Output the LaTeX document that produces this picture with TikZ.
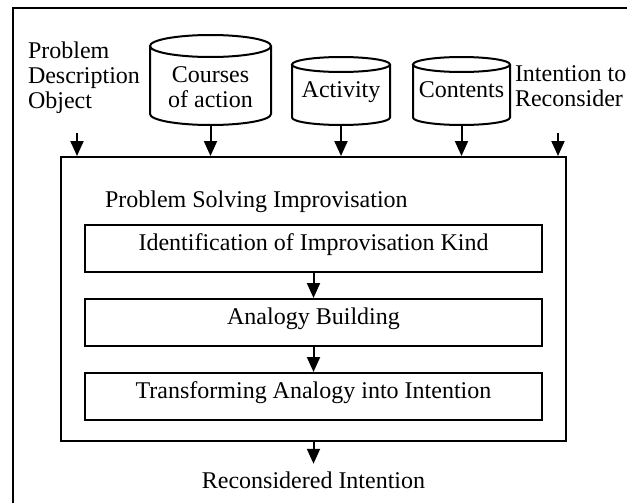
\documentclass[tikz,border=0pt]{standalone}
\usepackage{fontspec}
\setmainfont{Liberation Serif}
\usetikzlibrary{arrows.meta, positioning, calc}

\begin{document}
\begin{tikzpicture}[x=0.5pt, y=-0.5pt, >={Triangle[width=6.5pt,length=7.5pt]}, line width=1pt, font={\fontsize{12pt}{12.5pt}\selectfont}]
    \tikzset{
        drum/.style={inner sep=0pt, outer sep=0pt, align=center},
        stepbox/.style={draw, inner sep=0pt, minimum width=228.5pt, minimum height=23.5pt, text height=8pt, text depth=6.25pt},
        plain/.style={inner sep=0pt, outer sep=0pt, align=left}
    }
    \useasboundingbox (0,0) rectangle (627,503);
    % frame
    \draw (13,503) -- (13,8) -- (627,8);

    % inputs
    \node[plain, anchor=north west] (pdo) at (28,41.6) {Problem\\Description\\Object};
    \node[drum, minimum width=60.5pt, minimum height=45pt, text height=27pt, text depth=0pt] (courses) at (210.5,80) {Courses\\of action};
    \node[drum, minimum width=49pt, minimum height=34pt, text height=9pt, text depth=3pt] (activity) at (341,91) {Activity};
    \node[drum, minimum width=48.5pt, minimum height=34pt, text height=9pt, text depth=3pt] (contents) at (461.5,91) {Contents};
    \node[plain, anchor=north west] (reconsider) at (515,66) {Intention to\\Reconsider};

    \draw ([yshift=-5.5pt]courses.north west) -- ([yshift=5.5pt]courses.south west) arc[start angle=180, end angle=360, x radius=30.25pt, y radius=5.5pt] -- ([yshift=-5.5pt]courses.north east) arc[start angle=0, end angle=360, x radius=30.25pt, y radius=5.5pt];
    \draw ([yshift=-3.75pt]activity.north west) -- ([yshift=3.75pt]activity.south west) arc[start angle=180, end angle=360, x radius=24.5pt, y radius=3.75pt] -- ([yshift=-3.75pt]activity.north east) arc[start angle=0, end angle=360, x radius=24.5pt, y radius=3.75pt];
    \draw ([yshift=-3.75pt]contents.north west) -- ([yshift=3.75pt]contents.south west) arc[start angle=180, end angle=360, x radius=24.25pt, y radius=3.75pt] -- ([yshift=-3.75pt]contents.north east) arc[start angle=0, end angle=360, x radius=24.25pt, y radius=3.75pt];

    % improvisation process
    \node[draw, inner sep=0pt, minimum width=252.5pt, minimum height=142pt] (psi) at (313.5,299) {};
    \node[plain, anchor=base west] (psititle) at (105,207) {Problem Solving Improvisation};
    \node[stepbox] (ident) at (313.5,248.5) {Identification of Improvisation Kind};
    \node[stepbox, below=12.5pt of ident] (analogy) {Analogy Building};
    \node[stepbox, below=12.5pt of analogy] (transform) {Transforming Analogy into Intention};
    \node[anchor=base, inner sep=0pt, outer ysep=3.8pt] (result) at (313.5,488) {Reconsidered Intention};

    \coordinate (pdo-in) at (77,133);
    \coordinate (reconsider-in) at (558,133);
    \draw[->] (pdo-in) -- (pdo-in |- psi.north);
    \draw[->] (courses) -- (courses |- psi.north);
    \draw[->] (activity) -- (activity |- psi.north);
    \draw[->] (contents) -- (contents |- psi.north);
    \draw[->] (reconsider-in) -- (reconsider-in |- psi.north);
    \draw[->] (ident) -- (analogy);
    \draw[->] (analogy) -- (transform);
    \draw[->] (psi) -- (result);
\end{tikzpicture}
\end{document}
